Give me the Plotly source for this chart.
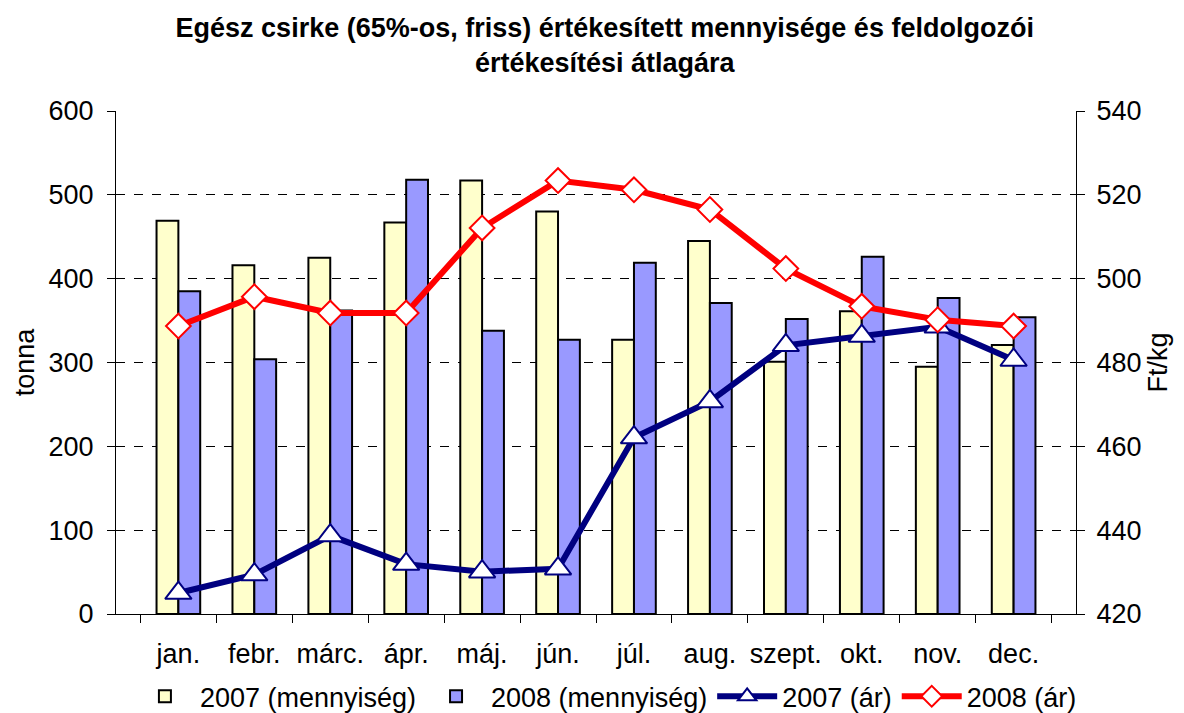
import plotly.graph_objects as go

months = ["jan.", "febr.", "márc.", "ápr.", "máj.", "jún.", "júl.", "aug.", "szept.", "okt.", "nov.", "dec."]
qty_2007 = [469, 416, 425, 467, 517, 480, 327, 445, 301, 361, 295, 321]
qty_2008 = [385, 304, 362, 518, 338, 327, 419, 371, 352, 426, 377, 354]
price_2007 = [425.0, 429.4, 438.7, 431.9, 430.1, 430.8, 462.1, 470.7, 484.1, 486.3, 488.5, 480.6]
price_2008 = [488.7, 495.7, 491.8, 491.8, 512.1, 523.4, 521.2, 516.5, 502.4, 493.4, 490.2, 488.7]

font_family = "Liberation Sans, Arial, sans-serif"
FS = 27

fig = go.Figure()
fig.add_trace(go.Bar(x=months, y=qty_2007, name="2007 (mennyiség)",
                     marker=dict(color="#FFFFCC", line=dict(color="black", width=2))))
fig.add_trace(go.Bar(x=months, y=qty_2008, name="2008 (mennyiség)",
                     marker=dict(color="#9999FF", line=dict(color="black", width=2))))
fig.add_trace(go.Scatter(x=months, y=price_2007, name="2007 (ár)", yaxis="y2",
                         mode="lines+markers",
                         line=dict(color="#000080", width=6),
                         marker=dict(symbol="triangle-up", size=23, color="white",
                                     line=dict(color="#000080", width=2))))
fig.add_trace(go.Scatter(x=months, y=price_2008, name="2008 (ár)", yaxis="y2",
                         mode="lines+markers",
                         line=dict(color="#FF0000", width=6),
                         marker=dict(symbol="diamond", size=19, color="white",
                                     line=dict(color="#FF0000", width=2))))

fig.update_layout(
    width=1184, height=713,
    margin=dict(l=108, r=116, t=103, b=107, autoexpand=False),
    paper_bgcolor="white", plot_bgcolor="white",
    font=dict(family=font_family, size=FS, color="black"),
    title=dict(text="<b>Egész csirke (65%-os, friss) értékesített mennyisége és feldolgozói<br>értékesítési átlagára</b>",
               x=0.504, xanchor="center", y=0.959, yanchor="middle",
               font=dict(family=font_family, size=FS, color="black")),
    barmode="group", bargap=0.425, bargroupgap=0,
    showlegend=True,
    legend=dict(orientation="h", xref="container", x=0.505, xanchor="center",
                yref="container", y=0.034, yanchor="middle",
                font=dict(size=FS), traceorder="normal", itemwidth=60,
                bgcolor="rgba(0,0,0,0)"),
    xaxis=dict(showline=True, linecolor="black", linewidth=1,
               ticks="outside", tickson="boundaries", ticklen=8, tickcolor="black",
               tickangle=0, automargin=False,
               ticklabelstandoff=16, showgrid=False, tickfont=dict(size=FS)),
    yaxis=dict(range=[0, 600], dtick=100, showline=True, linecolor="black", linewidth=1,
               ticks="outside", ticklen=8, tickcolor="black",
               ticklabelstandoff=8, automargin=False,
               showgrid=True, gridcolor="black", gridwidth=1, griddash="dash",
               zeroline=False,
               title=dict(text="tonna", standoff=6, font=dict(size=FS)),
               tickfont=dict(size=FS)),
    yaxis2=dict(range=[420, 540], dtick=20, overlaying="y", side="right",
                showline=True, linecolor="black", linewidth=1,
                ticks="outside", ticklen=8, tickcolor="black",
                ticklabelstandoff=6, automargin=False,
                showgrid=False, zeroline=False,
                title=dict(text="Ft/kg", standoff=7, font=dict(size=FS)),
                tickfont=dict(size=FS)),
)

fig.write_html("out.html")
